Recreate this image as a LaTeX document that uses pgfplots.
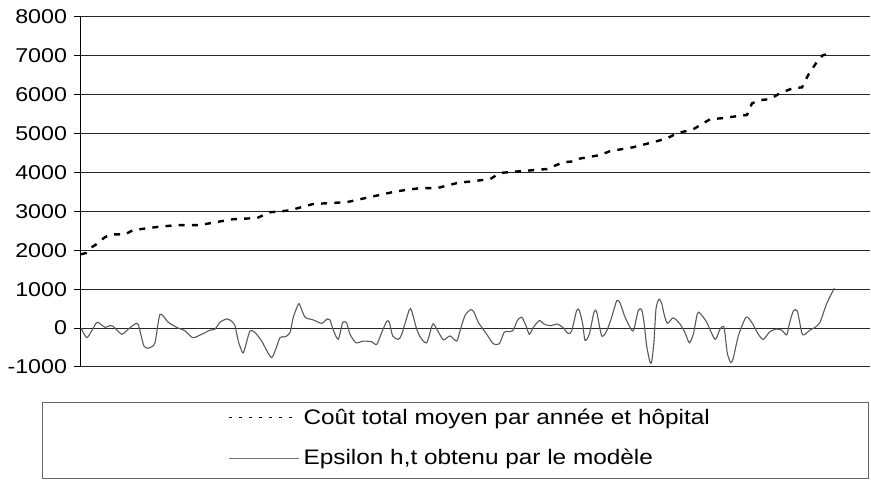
\documentclass[border=0pt]{standalone}
\usepackage{fontspec}
\setmainfont{Liberation Sans}[FakeStretch=1.16]
\usepackage{pgfplots}
\pgfplotsset{compat=1.18}
\begin{document}
\begin{tikzpicture}
\begin{axis}[name=ax, scale only axis, width=394.5pt, height=175pt,
  xmin=0, xmax=789, ymin=-1000, ymax=8000,
  ytick={-1000,0,1000,2000,3000,4000,5000,6000,7000,8000},
  xtick=\empty,
  axis x line=none, axis y line=left,
  axis line style={-, black, line width=0.5pt},
  ymajorgrids, grid style={black!85, line width=0.5pt},
  tick align=outside, major tick length=3.5pt,
  tick style={black, line width=0.5pt},
  yticklabel style={font=\fontsize{10}{12}\selectfont},
  /pgf/number format/assume math mode=true,
  /pgf/number format/1000 sep={},
  clip=false,
  legend style={at={(axis description cs:0.1863,-0.2029)}, anchor=west, draw=none, fill=none,
    font=\fontsize{10.5}{12}\selectfont, row sep=7pt, inner sep=0pt},
  legend cell align=left,
  legend image code/.code={\draw[#1] (0pt,0pt) -- (35pt,0pt);},
]
\addplot[forget plot, black, line width=1.2pt, dash pattern=on 3pt off 3.6pt] coordinates {
(0,1900) (5,1930) (9,2050) (15,2150) (24,2340) (31,2410) (44,2410) (52,2520) (76,2600)
(96,2650) (119,2650) (136,2730) (152,2800) (176,2830) (189,2980) (199,3000) (209,3030)
(219,3100) (232,3190) (266,3240) (289,3370) (316,3520) (339,3600) (356,3600) (376,3730)
(399,3800) (409,3830) (419,3990) (442,4040) (466,4090) (476,4200) (484,4270) (494,4290)
(499,4360) (519,4450) (529,4550) (552,4650) (572,4780) (586,4880) (596,5010) (612,5110)
(629,5370) (642,5400) (656,5450) (666,5480) (671,5780) (679,5860) (689,5890) (699,6040)
(712,6170) (721,6190) (727,6500) (736,6850) (742,7020) (752,7060)
};
\addplot[forget plot, black!65, line width=0.55pt, smooth, tension=0.4] coordinates {
(0,0) (5.7,-246) (10.7,-70) (16.3,150) (24,18) (28.3,61) (32.3,44) (40.7,-158) (47.3,-26)
(54,105) (57.3,88) (63,-465) (68.3,-509) (74,-377) (79,351) (87.3,149) (95.7,18) (104,-70)
(111.7,-246) (120.7,-158) (129,-53) (134,-26) (139,149) (145.7,237) (150.7,175) (154,61)
(157.3,-333) (161.7,-640) (164,-509) (169,-70) (174,-114) (180.7,-333) (190.7,-754)
(199,-246) (204,-228) (209,-114) (212.3,281) (217.3,614) (219,588) (224,281) (232.3,210)
(240.7,123) (246.3,237) (249,210) (252.3,-53) (257.3,-289) (261.7,149) (265.7,132)
(269,-158) (275,-377) (282.3,-333) (290.7,-351) (295.7,-421) (300.7,-114) (305.7,175)
(308.3,149) (311.7,-202) (317.3,-289) (320.7,-158) (328.3,474) (330.7,439) (335.7,-26)
(339.7,-246) (345.7,-377) (351.7,105) (355.7,-26) (361.7,-289) (364,-289) (369,-202)
(375.7,-333) (379,-70) (384,325) (389.7,474) (393,412) (397.3,149) (405.7,-158)
(412.3,-403) (418.3,-403) (423,-114) (425.7,-88) (431.7,-70) (436.3,193) (440.7,281)
(445,61) (448.3,-158) (452.3,18) (458.3,193) (463,105) (469,61) (476.3,105) (481.7,18)
(487.3,-140) (490.7,-70) (495.7,456) (498.3,456) (501.7,105) (504,-316) (508.3,-158)
(513,412) (515.7,412) (520.7,-202) (525.7,-70) (530.7,281) (535.7,702) (539,649)
(544,281) (550.7,-53) (553,-26) (557.3,456) (560.7,474) (563,149) (565.7,-465) (569,-877)
(570.7,-860) (573,-333) (575,500) (578,745) (580.7,631) (583,368) (586.3,123) (592.3,263)
(599,105) (604,-114) (608.3,-377) (612.3,-158) (616.3,368) (619,386) (625.7,149)
(634,-289) (639,-26) (643,18) (646.3,-640) (649.7,-886) (652.3,-772) (657.3,-202)
(665,281) (670.7,149) (677.3,-158) (682.3,-289) (689,-88) (695.7,-26) (700.7,-53)
(705.7,-175) (708.3,105) (712.3,439) (716.3,439) (720.7,-114) (723,-175) (729,-53)
(734,18) (739,149) (745.7,631) (753.3,1026)
};
\addlegendimage{black, line width=0.6pt, dash pattern=on 1.5pt off 3.5pt}
\addlegendentry{Coût total moyen par année et hôpital}
\addlegendimage{black!55, line width=0.6pt}
\addlegendentry{Epsilon h,t obtenu par le modèle}
\end{axis}
\draw[black!60, line width=0.5pt] ([shift={(-19.5pt,-18pt)}]ax.south west) rectangle ([shift={(393.5pt,-56pt)}]ax.south west);
\path ([shift={(-40.5pt,183.5pt)}]ax.south west) rectangle ([shift={(395pt,-56.5pt)}]ax.south west);
\end{tikzpicture}
\end{document}
